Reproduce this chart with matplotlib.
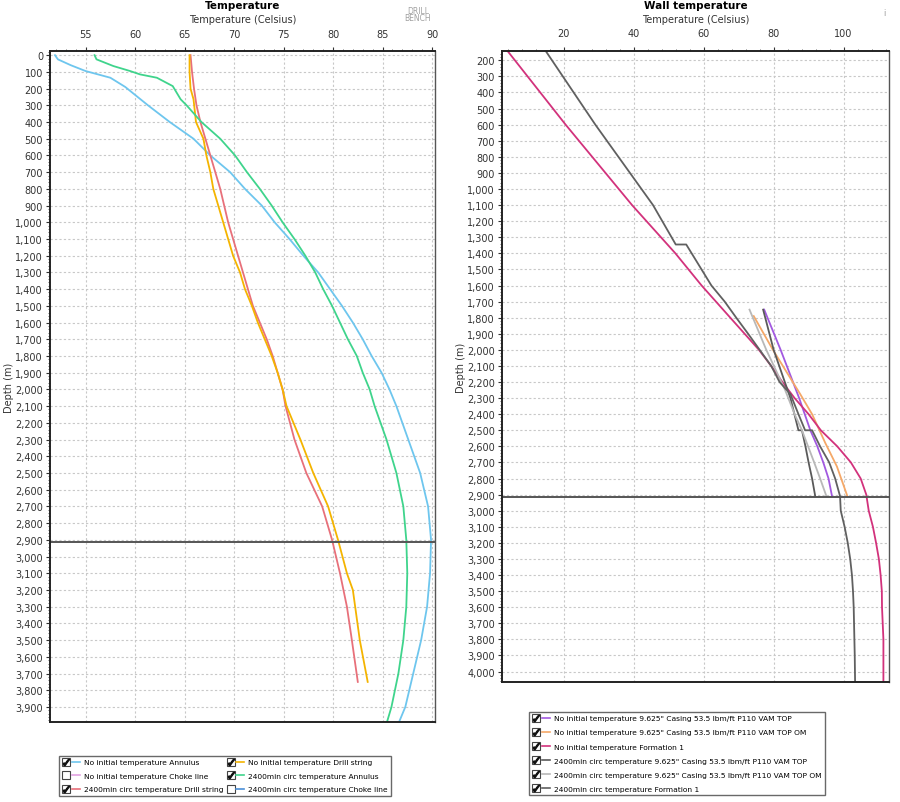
import matplotlib
matplotlib.use("Agg")
import matplotlib.pyplot as plt
from matplotlib.lines import Line2D
from matplotlib.legend_handler import HandlerTuple
from matplotlib.ticker import MultipleLocator, FuncFormatter

# ---- left panel: fluid temperatures (depth m, temp C) ----
ann_ni_depth = [0, 25, 60, 95, 135, 190, 300, 400, 500, 600, 700, 800, 900, 1000, 1100, 1200, 1300,
                1400, 1500, 1600, 1700, 1800, 1900, 2000, 2100, 2300, 2500, 2700, 2900, 3100, 3300,
                3500, 3700, 3900, 4000]
ann_ni_temp = [51.9, 52.2, 53.5, 55.0, 57.5, 59.0, 61.3, 63.5, 65.9, 67.6, 69.6, 71.1, 72.8, 74.1, 75.6,
               77.0, 78.5, 79.7, 80.9, 82.0, 83.0, 83.9, 84.9, 85.7, 86.4, 87.6, 88.8, 89.6, 89.9, 89.8,
               89.5, 88.9, 88.1, 87.3, 86.6]

ann_circ_depth = [0, 25, 65, 95, 115, 135, 185, 264, 300, 400, 500, 600, 700, 800, 900, 1000, 1100,
                  1200, 1300, 1400, 1500, 1600, 1700, 1800, 1900, 2000, 2100, 2300, 2500, 2700, 2900,
                  3100, 3300, 3500, 3700, 3900, 4000]
ann_circ_temp = [55.9, 56.1, 57.8, 59.5, 60.5, 62.2, 63.8, 64.6, 65.2, 66.7, 68.6, 70.1, 71.3, 72.6, 73.8,
                 74.9, 76.1, 77.2, 78.2, 79.0, 79.9, 80.7, 81.5, 82.4, 83.0, 83.7, 84.2, 85.4, 86.4, 87.1,
                 87.4, 87.5, 87.4, 87.1, 86.6, 85.9, 85.4]

ds_ni_depth = [0, 100, 200, 264, 400, 500, 600, 700, 800, 900, 1000, 1100, 1200, 1300, 1400, 1500,
               1600, 1700, 1800, 1900, 2000, 2100, 2300, 2500, 2700, 2900, 3100, 3200, 3500, 3750]
ds_ni_temp = [65.5, 65.5, 65.6, 65.9, 66.15, 66.9, 67.2, 67.6, 67.9, 68.4, 68.9, 69.4, 69.9, 70.6, 71.1,
              71.8, 72.4, 73.1, 73.8, 74.4, 74.9, 75.3, 76.7, 78.0, 79.5, 80.5, 81.4, 82.0, 82.7, 83.5]

ds_circ_depth = [0, 100, 200, 300, 400, 500, 600, 700, 800, 900, 1000, 1100, 1200, 1300, 1400, 1500,
                 1600, 1700, 1800, 1900, 2000, 2100, 2300, 2500, 2700, 2900, 3100, 3300, 3500, 3750]
ds_circ_temp = [65.6, 65.75, 65.95, 66.2, 66.6, 67.1, 67.6, 68.1, 68.6, 69.0, 69.4, 69.9, 70.4, 70.9,
                71.4, 71.9, 72.6, 73.3, 73.9, 74.4, 74.9, 75.2, 76.1, 77.3, 78.9, 79.9, 80.7, 81.4,
                81.9, 82.5]

# ---- right panel: wall temperatures ----
form_ni_depth = [145, 600, 1100, 1400, 1600, 1700, 1800, 1900, 2000, 2100, 2200, 2300, 2400, 2500,
                 2600, 2700, 2800, 2900, 3000, 3100, 3200, 3300, 3400, 3500, 3600, 3700, 3800, 4065]
form_ni_temp = [4.0, 20.5, 39.5, 51.9, 59.4, 63.5, 67.6, 71.7, 75.8, 79.3, 82.5, 86.0, 90.0, 93.5,
                98.2, 102.1, 104.9, 106.5, 107.2, 108.4, 109.3, 110.1, 110.6, 110.95, 111.0, 111.2,
                111.4, 111.4]

form_circ_depth = [145, 600, 1100, 1345, 1345, 1600, 1700, 1800, 1900, 2000, 2100, 2200, 2275, 2400,
                   2500, 2500, 2600, 2700, 2800, 2910, 3000, 3100, 3200, 3300, 3400, 3500, 3600, 3700,
                   3800, 3900, 4065]
form_circ_temp = [14.9, 29.0, 45.5, 52.0, 55.0, 62.2, 66.0, 69.3, 72.7, 76.0, 79.3, 81.7, 84.8, 87.1,
                  89.0, 91.0, 93.3, 95.9, 97.6, 99.0, 99.2, 100.3, 101.2, 101.9, 102.4, 102.7, 102.9,
                  103.0, 103.1, 103.2, 103.3]

csg_ni_depth = [1750, 2000, 2300, 2500, 2600, 2700, 2800, 2910]
csg_ni_temp = [77.3, 82.0, 87.3, 90.5, 92.5, 94.2, 95.7, 96.7]

om_ni_depth = [1790, 2000, 2275, 2400, 2580, 2725, 2910]
om_ni_temp = [74.3, 79.8, 87.6, 91.0, 94.8, 98.1, 101.1]

csg_circ_depth = [1750, 2000, 2300, 2500, 2500, 2600, 2700, 2800, 2910]
csg_circ_temp = [77.0, 80.0, 84.8, 87.1, 88.1, 89.1, 90.0, 91.0, 91.9]

om_circ_depth = [1750, 2000, 2250, 2400, 2500, 2700, 2800, 2910]
om_circ_temp = [73.1, 77.9, 83.3, 86.0, 88.1, 91.6, 93.3, 95.1]

left_labels = ["No initial temperature Annulus", "No initial temperature Choke line",
               "2400min circ temperature Drill string", "No initial temperature Drill string",
               "2400min circ temperature Annulus", "2400min circ temperature Choke line"]
left_colors = ["#6ec6ee", "#e2a2e2", "#e8707a", "#f4b400", "#3fd48c", "#4a8fd8"]
left_checked = [True, False, True, True, True, False]

right_labels = ["No initial temperature 9.625\" Casing 53.5 lbm/ft P110 VAM TOP",
                "No initial temperature 9.625\" Casing 53.5 lbm/ft P110 VAM TOP OM",
                "No initial temperature Formation 1",
                "2400min circ temperature 9.625\" Casing 53.5 lbm/ft P110 VAM TOP",
                "2400min circ temperature 9.625\" Casing 53.5 lbm/ft P110 VAM TOP OM",
                "2400min circ temperature Formation 1"]
right_colors = ["#a259e0", "#f5a868", "#d2327c", "#5a5a5a", "#b8b8b8", "#606060"]

shoe_depth = 2915

plt.rcParams["font.family"] = ["DejaVu Sans"]
fig = plt.figure(figsize=(9, 8.03), dpi=100)
ax1 = fig.add_axes([50 / 900, 1 - 723 / 803, 385 / 900, 671 / 803])
ax2 = fig.add_axes([502 / 900, 1 - 683 / 803, 387 / 900, 631 / 803])

lw = 1.3
ax1.plot(ann_ni_temp, ann_ni_depth, color=left_colors[0], lw=lw)
ax1.plot(ds_circ_temp, ds_circ_depth, color=left_colors[2], lw=lw)
ax1.plot(ds_ni_temp, ds_ni_depth, color=left_colors[3], lw=lw)
ax1.plot(ann_circ_temp, ann_circ_depth, color=left_colors[4], lw=lw)

ax2.plot(csg_ni_temp, csg_ni_depth, color=right_colors[0], lw=lw)
ax2.plot(om_ni_temp, om_ni_depth, color=right_colors[1], lw=lw)
ax2.plot(form_ni_temp, form_ni_depth, color=right_colors[2], lw=lw)
ax2.plot(csg_circ_temp, csg_circ_depth, color=right_colors[3], lw=lw)
ax2.plot(om_circ_temp, om_circ_depth, color=right_colors[4], lw=lw)
ax2.plot(form_circ_temp, form_circ_depth, color=right_colors[5], lw=lw)

comma = FuncFormatter(lambda v, p: "{:,}".format(int(round(v))))

for ax, title, xlim, ylim, xmaj, xmin in [
        (ax1, "Temperature", (51.4, 90.3), (3990, -25), 5, 1),
        (ax2, "Wall temperature", (2.3, 113), (4065, 142), 20, 4)]:
    ax.axhline(shoe_depth, color="#555555", lw=1.4)
    ax.set_xlim(*xlim)
    ax.set_ylim(*ylim)
    ax.xaxis.tick_top()
    ax.xaxis.set_label_position("top")
    ax.xaxis.set_major_locator(MultipleLocator(xmaj))
    ax.xaxis.set_minor_locator(MultipleLocator(xmin))
    ax.yaxis.set_major_locator(MultipleLocator(100))
    ax.yaxis.set_minor_locator(MultipleLocator(20))
    ax.yaxis.set_major_formatter(comma)
    ax.grid(True, which="major", color="#c8c8c8", ls=(0, (2, 2)), lw=0.8)
    ax.tick_params(which="major", labelsize=7, length=3, colors="#333333", pad=2)
    ax.tick_params(which="minor", length=1.5, colors="#555555")
    ax.tick_params(axis="x", pad=6)
    ax.set_xlabel("Temperature (Celsius)", fontsize=7, color="#333333", labelpad=5)
    ax.set_ylabel("Depth (m)", fontsize=7, color="#333333", labelpad=1)
    ax.set_title(title, fontsize=7.5, fontweight="bold", pad=4)
    for s in ax.spines.values():
        s.set_color("#555555")
        s.set_linewidth(1.0)
    for side in ("left", "bottom", "top"):
        ax.spines[side].set_color("#222222")
        ax.spines[side].set_linewidth(1.4)


class CheckBox(tuple):
    pass


def box_handle(checked, color):
    box = Line2D([], [], marker="s", ms=6, mfc="white", mec="#444444", mew=0.8, ls="none")
    parts = [box]
    if checked:
        parts.append(Line2D([], [], marker=r"$\checkmark$", ms=4.5, color="#111111", ls="none"))
    line = Line2D([], [], color=color, lw=1.2)
    return (CheckBox(parts), line)


hmap = {CheckBox: HandlerTuple(ndivide=1), tuple: HandlerTuple(ndivide=None, pad=0.2)}

left_handles = [box_handle(c, col) for c, col in zip(left_checked, left_colors)]
leg1 = fig.legend(left_handles, left_labels, ncol=2, fontsize=5.4, handler_map=hmap,
                  loc="upper left", bbox_to_anchor=(55 / 900, 1 - 753 / 803),
                  frameon=True, fancybox=False, edgecolor="#444444", handlelength=2.4,
                  handletextpad=0.5, columnspacing=0.4, labelspacing=0.95, borderpad=0.45)
leg1.get_frame().set_linewidth(1.0)

right_handles = [box_handle(True, col) for col in right_colors]
leg2 = fig.legend(right_handles, right_labels, ncol=1, fontsize=5.4, handler_map=hmap,
                  loc="upper left", bbox_to_anchor=(525 / 900, 1 - 709 / 803),
                  frameon=True, fancybox=False, edgecolor="#444444", handlelength=2.4,
                  handletextpad=0.5, labelspacing=1.05, borderpad=0.45)
leg2.get_frame().set_linewidth(1.0)

fig.text(418 / 900, 1 - 15 / 803, "DRILL\nBENCH", fontsize=5.5, color="#a0a0a0", ha="center",
         va="center", linespacing=0.8)
fig.text(884 / 900, 1 - 14 / 803, "i", fontsize=6, color="#a0a0a0", ha="center", va="center")

fig.savefig("out.png", dpi=100)
